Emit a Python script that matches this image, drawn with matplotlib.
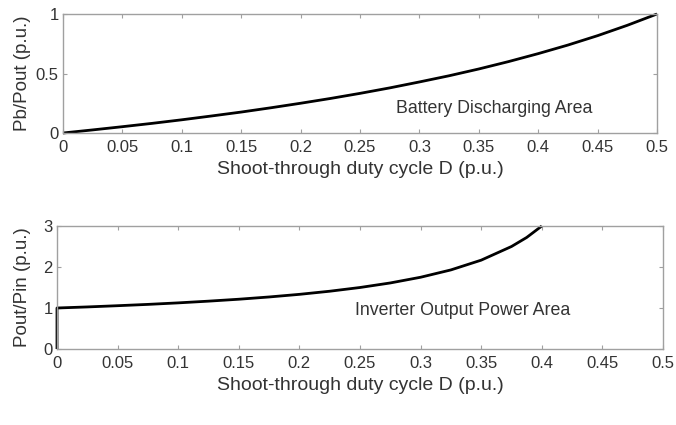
import numpy as np
import matplotlib.pyplot as plt

plt.rcParams['font.family'] = ['Liberation Sans', 'DejaVu Sans']

# Battery power share vs shoot-through duty cycle
d_bat = [0, 0.025, 0.05, 0.075, 0.1, 0.125, 0.15, 0.175, 0.2, 0.225, 0.25,
         0.275, 0.3, 0.325, 0.35, 0.375, 0.4, 0.425, 0.45, 0.475, 0.5]
pb_pout = [0, 0.026, 0.053, 0.081, 0.111, 0.143, 0.176, 0.212, 0.25, 0.29, 0.333,
           0.379, 0.429, 0.481, 0.538, 0.6, 0.667, 0.739, 0.818, 0.905, 1.0]

# Inverter output power ratio
d_inv = [0, 0, 0.025, 0.05, 0.075, 0.1, 0.125, 0.15, 0.175, 0.2, 0.225, 0.25,
         0.275, 0.3, 0.325, 0.35, 0.375, 0.3875, 0.4]
pout_pin = [0, 1.0, 1.026, 1.056, 1.088, 1.125, 1.167, 1.214, 1.269, 1.333, 1.409, 1.5,
            1.611, 1.75, 1.929, 2.167, 2.5, 2.72, 3.0]

xticks = [0, 0.05, 0.1, 0.15, 0.2, 0.25, 0.3, 0.35, 0.4, 0.45, 0.5]
xticklabels = ['0', '0.05', '0.1', '0.15', '0.2', '0.25', '0.3', '0.35', '0.4', '0.45', '0.5']

txt = '#333333'
spine = '#a0a0a0'

fig = plt.figure(figsize=(6.76, 4.25), dpi=100)
ax1 = fig.add_axes([63 / 676, 1 - 133 / 425, 594 / 676, 119 / 425])
ax2 = fig.add_axes([57 / 676, 1 - 349 / 425, 606 / 676, 123 / 425])


def style(ax):
    for s in ax.spines.values():
        s.set_color(spine)
        s.set_linewidth(1.0)
    ax.tick_params(direction='in', length=3, width=0.8, color=spine,
                   top=True, right=True, labelsize=12, labelcolor=txt, pad=3)
    ax.tick_params(axis='x', pad=5)
    ax.set_xticks(xticks)
    ax.set_xticklabels(xticklabels)
    ax.set_xlim(0, 0.5)
    ax.set_xlabel('Shoot-through duty cycle D (p.u.)', fontsize=14, color=txt, labelpad=4)


ax1.plot(d_bat, pb_pout, color='black', lw=2.0, clip_on=False, solid_capstyle='butt')
style(ax1)
ax1.set_ylim(0, 1)
ax1.set_yticks([0, 0.5, 1])
ax1.set_yticklabels(['0', '0.5', '1'])
ax1.set_ylabel('Pb/Pout (p.u.)', fontsize=13.5, color=txt)
ax1.yaxis.set_label_coords(-32 / 594, 0.5)
ax1.text(0.363, 0.21, 'Battery Discharging Area', fontsize=12.8, color=txt,
         ha='center', va='center')

ax2.plot(d_inv, pout_pin, color='black', lw=2.0, clip_on=False, solid_capstyle='butt')
style(ax2)
ax2.set_ylim(0, 3)
ax2.set_yticks([0, 1, 2, 3])
ax2.set_yticklabels(['0', '1', '2', '3'])
ax2.set_ylabel('Pout/Pin (p.u.)', fontsize=13.5, color=txt)
ax2.yaxis.set_label_coords(-26 / 606, 0.5)
ax2.text(0.335, 0.95, 'Inverter Output Power Area', fontsize=12.8, color=txt,
         ha='center', va='center')

fig.savefig('out.png', dpi=100)
